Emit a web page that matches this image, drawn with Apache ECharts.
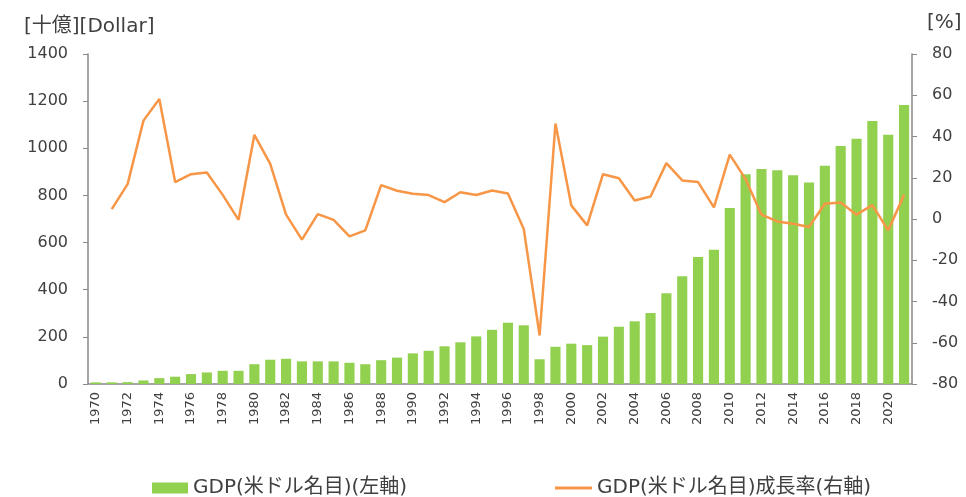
<!DOCTYPE html>
<html><head><meta charset="utf-8">
<script src="https://cdn.jsdelivr.net/npm/echarts@6/dist/echarts.min.js"></script>
<style>html,body{margin:0;padding:0;background:#fff}#c{width:966px;height:497px}</style>
</head><body><div id="c"></div>
<script>
var years = [];
for (var y = 1970; y <= 2021; y++) years.push(String(y));
var gdp = [7,7,8,15,25,31,42,49,56,56,84,103,107,96,96,96,90,84,101,112,130,141,160,177,202,230,260,249,105,158,171,165,201,243,266,301,385,457,539,570,747,890,912,907,886,855,926,1010,1040,1116,1057,1184];
var growth = [null,4.8,16.9,47.7,58.2,17.9,21.7,22.5,11.7,-0.4,40.8,26.7,2.1,-10,2.4,-0.4,-8.4,-5.5,16.4,13.7,12.2,11.6,8.2,13.0,11.6,13.8,12.4,-4.9,-56.5,46.3,6.6,-3.1,21.7,19.8,9.0,10.9,27.1,18.7,17.9,5.6,31.2,19.3,2.1,-1.2,-2.3,-3.9,7.4,8.0,2.1,6.7,-5.5,11.7];
var barName = 'GDP(米ドル名目)(左軸)';
var lineName = 'GDP(米ドル名目)成長率(右軸)';
var numFont = 'DejaVu Sans';
var mixFont = '"DejaVu Sans", "Noto Sans CJK JP"';
var axisCol = '#898989';
var textCol = '#404040';
var chart = echarts.init(document.getElementById('c'));
chart.setOption({
  animation: false,
  title: [
    {text: '[十億][Dollar]', left: 19, top: 12, textStyle: {fontFamily: mixFont, fontSize: 20, fontWeight: 'normal', color: textCol}},
    {text: '[%]', left: 922, top: 8, textStyle: {fontFamily: mixFont, fontSize: 20, fontWeight: 'normal', color: textCol}}
  ],
  grid: {left: 88, right: 54, top: 54, bottom: 113, containLabel: false},
  legend: [
    {data: [barName], left: 147, top: 473, itemWidth: 36, itemHeight: 11, icon: 'rect',
     textStyle: {fontFamily: mixFont, fontSize: 20, color: textCol}},
    {data: [lineName], left: 550, top: 473, itemWidth: 37, itemHeight: 3, icon: 'rect',
     itemStyle: {color: '#F79646'},
     textStyle: {fontFamily: mixFont, fontSize: 20, color: textCol}}
  ],
  xAxis: {
    type: 'category', data: years, boundaryGap: true,
    axisLine: {lineStyle: {color: axisCol, width: 1.5}},
    axisTick: {interval: 0, alignWithLabel: false, length: 5, lineStyle: {color: axisCol}},
    axisLabel: {interval: 1, rotate: 90, fontFamily: numFont, fontSize: 13, color: textCol, margin: 8}
  },
  yAxis: [
    {type: 'value', min: 0, max: 1400, interval: 200, splitLine: {show: false},
     axisLine: {show: true, lineStyle: {color: axisCol, width: 1.5}},
     axisTick: {show: true, length: 5, lineStyle: {color: axisCol}},
     axisLabel: {fontFamily: numFont, fontSize: 16, color: textCol, margin: 20,
                 formatter: function (v) { return String(v); }}},
    {type: 'value', min: -80, max: 80, interval: 20, splitLine: {show: false},
     axisLine: {show: true, lineStyle: {color: axisCol, width: 1.5}},
     axisTick: {show: true, length: 5, lineStyle: {color: axisCol}},
     axisLabel: {fontFamily: numFont, fontSize: 16, color: textCol, margin: 20,
                 formatter: function (v) { return String(v); }}}
  ],
  series: [
    {name: barName, type: 'bar', data: gdp, barWidth: '64%', itemStyle: {color: '#92D050'}},
    {name: lineName, type: 'line', yAxisIndex: 1, data: growth, symbol: 'none', connectNulls: false,
     lineStyle: {color: '#F79646', width: 2.5}, itemStyle: {color: '#F79646'}}
  ]
});
</script></body></html>
